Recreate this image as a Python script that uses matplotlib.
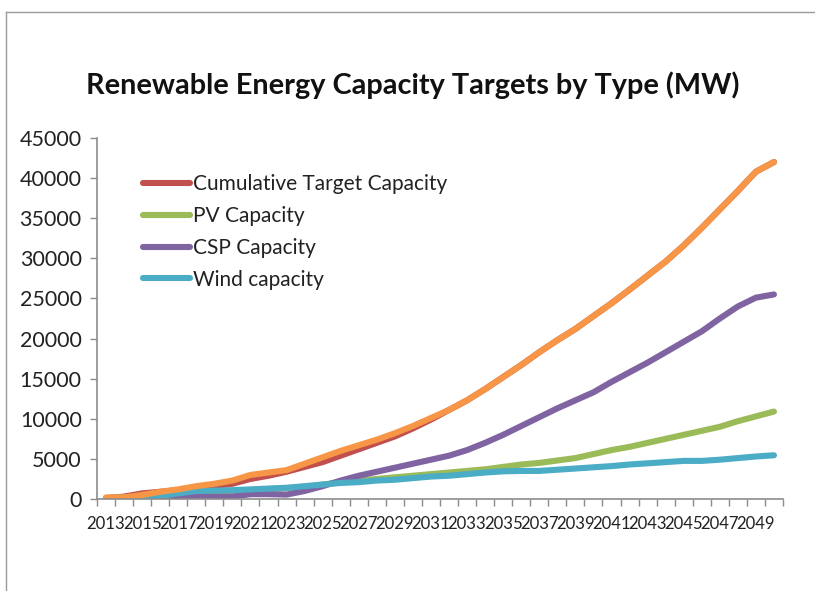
import matplotlib
matplotlib.use("Agg")
import matplotlib.pyplot as plt
from matplotlib.lines import Line2D
from matplotlib.ticker import FixedLocator, NullFormatter

years = list(range(2013, 2051))

cumulative_target = [100, 300, 700, 900, 1100, 1400, 1600, 1900, 2500, 2900,
                     3400, 4000, 4600, 5400, 6200, 7000, 7800, 8800, 9900, 11100,
                     12300, 13700, 15200, 16700, 18300, 19800, 21200, 22800, 24400, 26100,
                     27850, 29600, 31600, 33800, 36100, 38400, 40800, 42000]
pv_capacity = [100, 200, 250, 400, 600, 800, 950, 1000, 1100, 1250,
               1350, 1500, 1800, 2100, 2300, 2500, 2700, 2900, 3100, 3300,
               3500, 3700, 4000, 4300, 4500, 4800, 5100, 5600, 6100, 6500,
               7000, 7500, 8000, 8500, 9000, 9700, 10300, 10900]
csp_capacity = [0, 0, 100, 200, 250, 300, 300, 300, 600, 600,
                550, 1000, 1600, 2300, 2900, 3400, 3900, 4400, 4900, 5400,
                6100, 7000, 8000, 9100, 10200, 11300, 12300, 13300, 14600, 15800,
                17000, 18300, 19600, 20900, 22500, 24000, 25100, 25500]
wind_capacity = [0, 0, 100, 400, 700, 1000, 1050, 1100, 1200, 1300,
                 1400, 1600, 1800, 2000, 2100, 2300, 2400, 2600, 2800, 2900,
                 3100, 3300, 3450, 3500, 3500, 3650, 3800, 3950, 4100, 4300,
                 4450, 4600, 4750, 4750, 4900, 5100, 5300, 5450]
total_capacity = [200, 200, 500, 900, 1200, 1600, 1900, 2300, 3000, 3300,
                  3600, 4400, 5200, 6000, 6700, 7400, 8200, 9100, 10100, 11100,
                  12300, 13700, 15200, 16700, 18300, 19800, 21200, 22800, 24400, 26100,
                  27850, 29600, 31600, 33800, 36100, 38400, 40800, 42000]

series_labels = ["Cumulative Target Capacity", "PV Capacity", "CSP Capacity", "Wind capacity"]
series_colors = ["#C0504D", "#9BBB59", "#8064A2", "#4BACC6"]
total_color = "#F79646"
axis_gray = "#8C8C8C"

plt.rcParams["font.family"] = ["Lato", "DejaVu Sans"]

fig = plt.figure(figsize=(8.15, 5.91), dpi=100)
ax = fig.add_axes([97 / 815, 1 - 499 / 591, 686 / 815, 361 / 591])

x = list(range(len(years)))
for vals, lab, col in zip([cumulative_target, pv_capacity, csp_capacity, wind_capacity],
                          series_labels, series_colors):
    ax.plot(x, vals, color=col, lw=4.4, label=lab, solid_capstyle="round",
            solid_joinstyle="round")
ax.plot(x, total_capacity, color=total_color, lw=4.4, solid_capstyle="round",
        solid_joinstyle="round")

ax.set_xlim(-0.5, len(years) - 0.5)
ax.set_ylim(0, 45000)
ax.set_yticks(range(0, 45001, 5000))
ax.tick_params(axis="y", direction="out", length=5, width=1, color=axis_gray,
               labelsize=15.5, pad=6, labelcolor="#222222")

# category labels on every other year, tick marks between categories
ax.set_xticks(x[::2])
ax.set_xticklabels([str(y) for y in years[::2]])
ax.tick_params(axis="x", which="major", length=0, labelsize=12.1, pad=12,
               labelcolor="#222222")
ax.xaxis.set_minor_locator(FixedLocator([i - 0.5 for i in range(len(years) + 1)]))
ax.xaxis.set_minor_formatter(NullFormatter())
ax.tick_params(axis="x", which="minor", direction="out", length=5, width=1,
               color=axis_gray)

for side in ["top", "right"]:
    ax.spines[side].set_visible(False)
for side in ["left", "bottom"]:
    ax.spines[side].set_color(axis_gray)
    ax.spines[side].set_linewidth(1.2)

leg = ax.legend(loc="upper left", bbox_to_anchor=(0.067, 0.90), frameon=False,
                fontsize=15, handlelength=2.26, handletextpad=0.15,
                labelspacing=0.57, borderpad=0, borderaxespad=0)
for t in leg.get_texts():
    t.set_color("#222222")

fig.text(0.507, 1 - 85 / 591, "Renewable Energy Capacity Targets by Type (MW)",
         ha="center", va="center", fontsize=20.8, fontweight="bold", color="#111111")

# chart frame
fig.add_artist(Line2D([6 / 815, 6 / 815], [0, 1 - 12 / 591], transform=fig.transFigure,
                      color="#9A9A9A", lw=1))
fig.add_artist(Line2D([6 / 815, 1], [1 - 12 / 591, 1 - 12 / 591], transform=fig.transFigure,
                      color="#9A9A9A", lw=1))

fig.savefig("out.png", dpi=100)
